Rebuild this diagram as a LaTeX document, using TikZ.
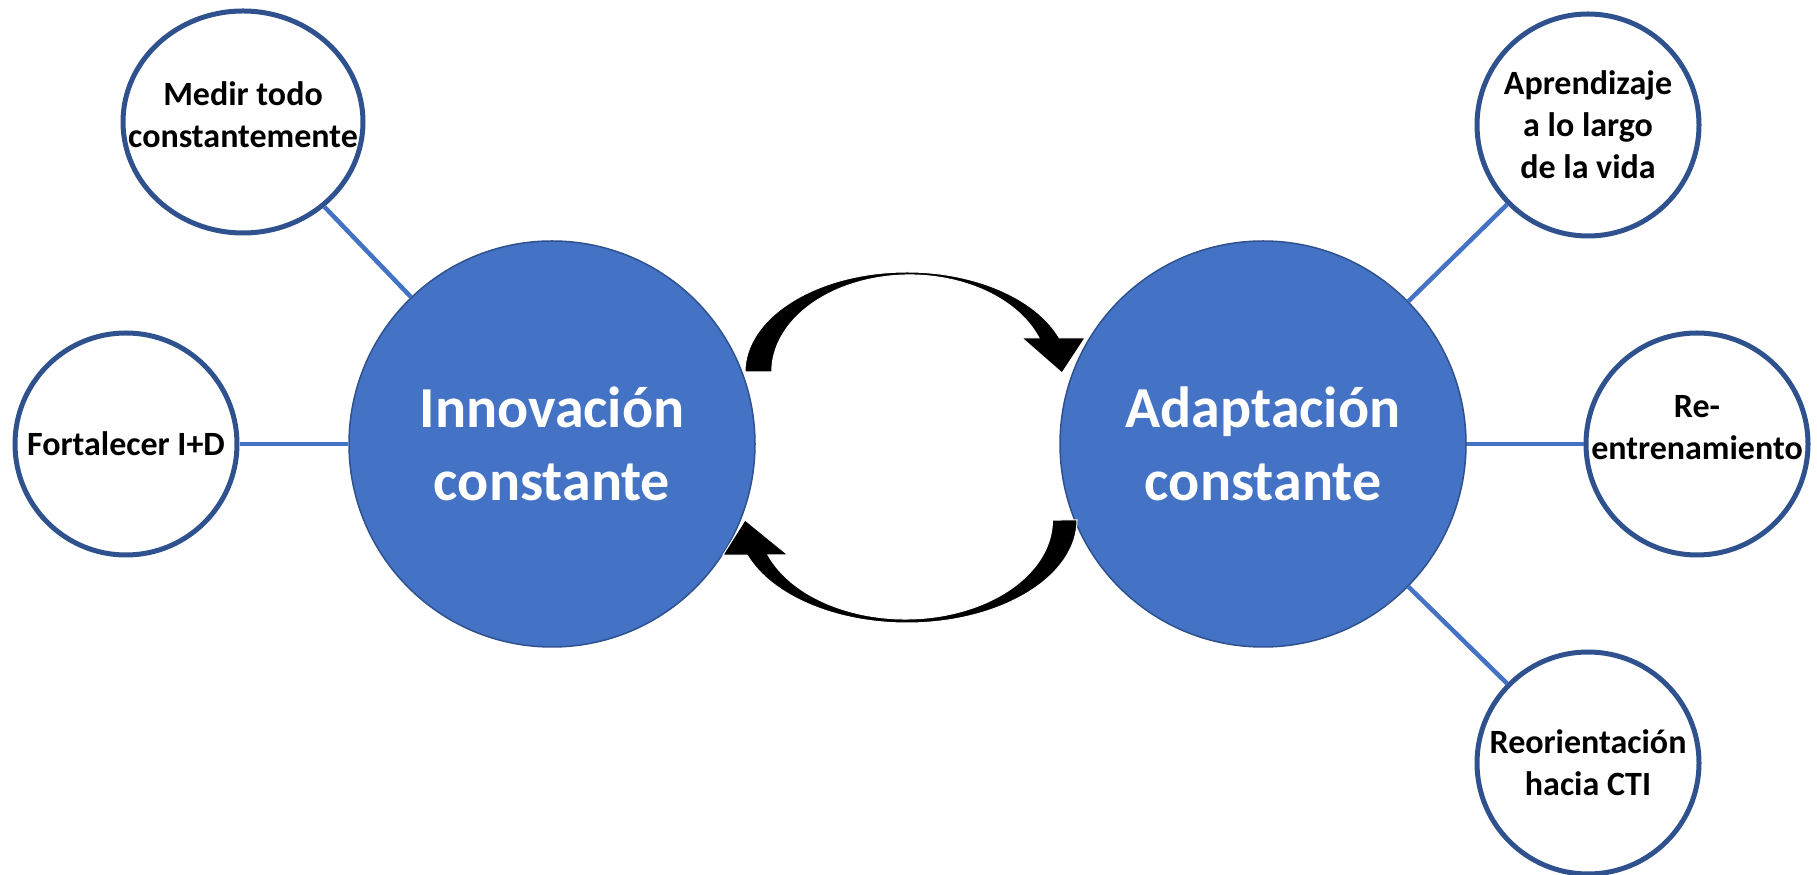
\documentclass[tikz,border=0pt]{standalone}
\usepackage{fontspec}
\setmainfont{Carlito}
\usetikzlibrary{shapes.geometric}
\definecolor{azul}{HTML}{4472C4}
\definecolor{azulosc}{HTML}{2F528F}
\tikzset{
  bigcirc/.style={circle, fill=azul, draw=azulosc, line width=1.5pt, minimum size=406pt, inner sep=0pt},
  smallcirc/.style={ellipse, fill=white, draw=azulosc, line width=5pt, minimum width=222pt, minimum height=222pt, inner sep=0pt},
  smalltxt/.style={align=center, font=\fontsize{34}{42}\selectfont\bfseries, inner sep=0pt},
  bigtxt/.style={align=center, text=white, font=\fontsize{58}{73}\selectfont\bfseries, inner sep=0pt},
  link/.style={draw=azul, line width=4.5pt},
  ciclo/.style={fill=black, draw=white, line width=1pt}
}
\begin{document}
\begin{tikzpicture}[x=1pt, y=1pt]
    \useasboundingbox (0,0) rectangle (1817,875);
    % circulos centrales
    \node[bigcirc] (inno) at (552,431) {};
    \node[bigcirc] (adap) at (1263,431) {};
    \node[bigtxt] (inno-t) at (inno) {Innovación\\constante};
    \node[bigtxt] (adap-t) at (adap) {Adaptación\\constante};
    % circulos pequenos
    \node[smallcirc, minimum width=240pt] (medir) at (243,753) {};
    \node[smallcirc] (fort) at (126,431) {};
    \node[smallcirc] (aprend) at (1588,750) {};
    \node[smallcirc] (reent) at (1697,431) {};
    \node[smallcirc] (reor) at (1588,112) {};
    \node[smalltxt] (medir-t) at ([yshift=7pt]medir) {Medir todo\\constantemente};
    \node[smalltxt] (fort-t) at (fort) {Fortalecer I+D};
    \node[smalltxt] (aprend-t) at (aprend) {Aprendizaje\\a lo largo\\de la vida};
    \node[smalltxt] (reent-t) at ([yshift=16pt]reent) {Re-\\entrenamiento};
    \node[smalltxt] (reor-t) at (reor) {Reorientación\\hacia CTI};
    % conexiones
    \draw[link] (medir) -- (inno);
    \draw[link] (fort) -- (inno);
    \draw[link] (aprend) -- (adap);
    \draw[link] (reent) -- (adap);
    \draw[link] (reor) -- (adap);
    % flechas del ciclo
    \filldraw[ciclo] (745,503) arc[start angle=180, end angle=20, x radius=162pt, y radius=100pt]
        -- (1085,537) -- (1062,502) -- (1022,537) -- (1039,537)
        arc[start angle=20.5, end angle=180, x radius=138pt, y radius=97pt] -- cycle;
    \filldraw[ciclo] (1077,355) arc[start angle=0, end angle=-160, x radius=170pt, y radius=103pt]
        -- (723,320) -- (745,355) -- (788,320) -- (768,320)
        arc[start angle=-159.3, end angle=0, x radius=147pt, y radius=99pt] -- cycle;
\end{tikzpicture}
\end{document}
